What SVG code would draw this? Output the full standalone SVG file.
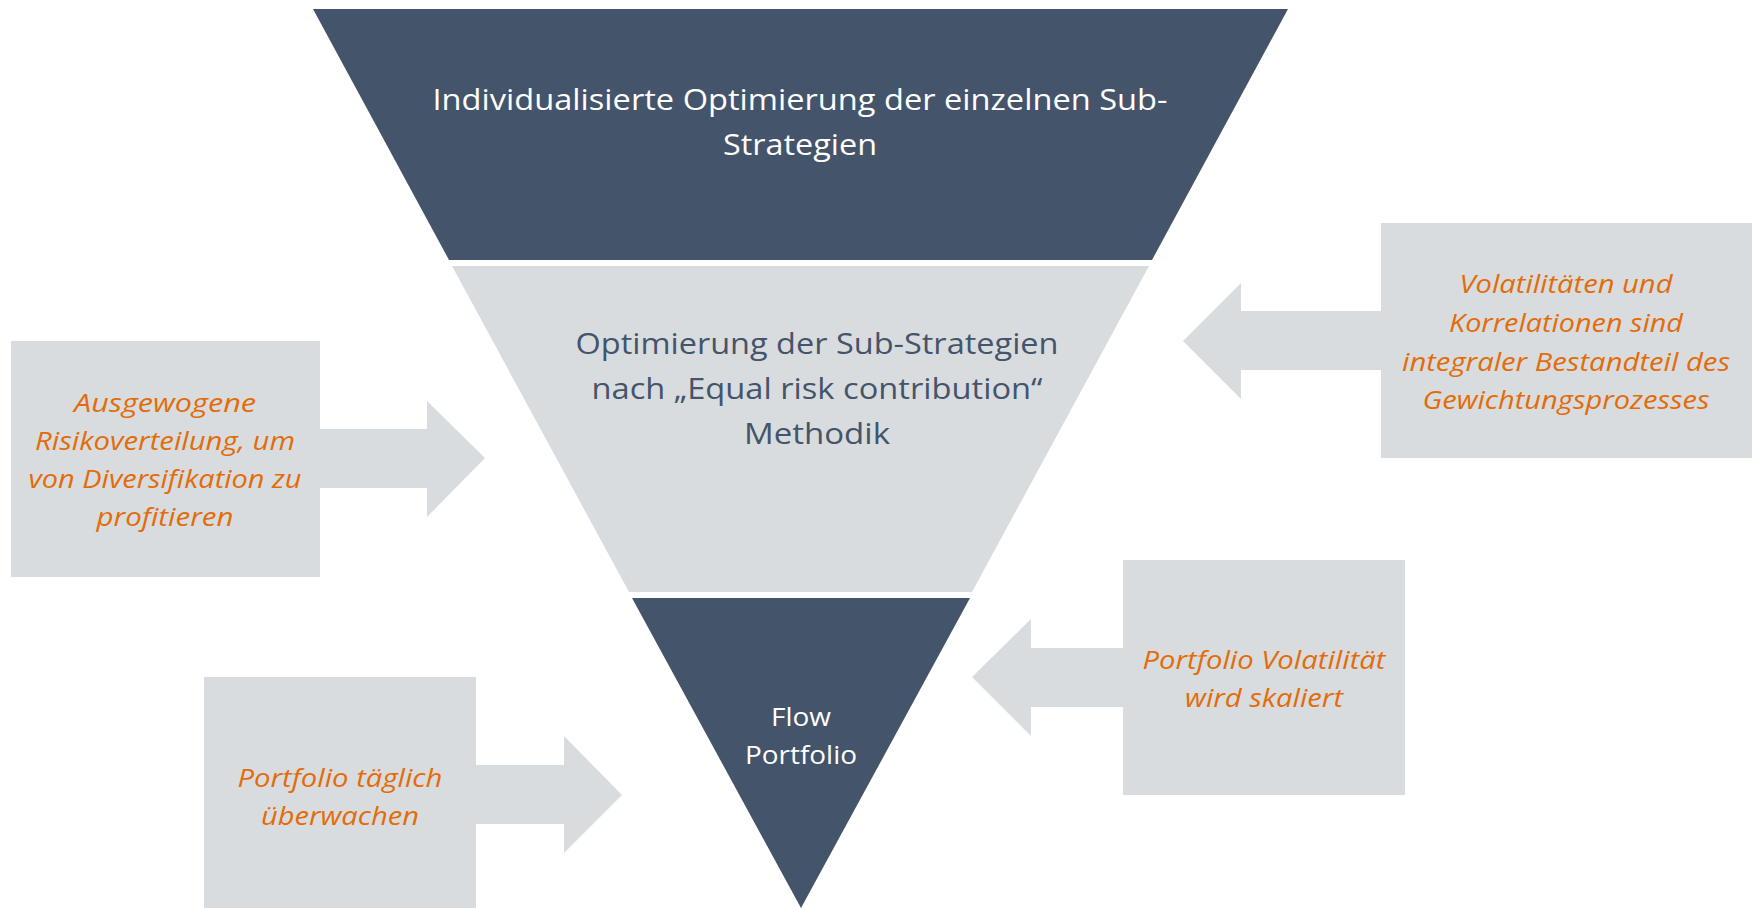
<svg xmlns="http://www.w3.org/2000/svg" width="1752" height="908" viewBox="0 0 1752 908">
<style>
.dark{fill:#44546A}
.light{fill:#D9DCDF}
.wt{font-family:"Open Sans","Liberation Sans",sans-serif;fill:#FFFFFF;text-anchor:middle}
.gt{font-family:"Open Sans","Liberation Sans",sans-serif;fill:#44546A;text-anchor:middle}
.ot{font-family:"Open Sans","Liberation Sans",sans-serif;font-style:italic;fill:#E36C0A;text-anchor:middle;font-size:25px}
</style>
<rect width="1752" height="908" fill="#FFFFFF"/>
<g id="level-top">
<polygon class="dark" points="313,9 1288,9 1152,260 449,260"/>
<text class="wt" font-size="29" x="800" y="110" textLength="735" lengthAdjust="spacingAndGlyphs">Individualisierte Optimierung der einzelnen Sub-</text>
<text class="wt" font-size="29" x="800" y="155" textLength="154" lengthAdjust="spacingAndGlyphs">Strategien</text>
</g>
<g id="level-middle">
<polygon class="light" points="452,266 1149,266 972,592 629,592"/>
<text class="gt" font-size="29" x="817" y="354" textLength="483" lengthAdjust="spacingAndGlyphs">Optimierung der Sub-Strategien</text>
<text class="gt" font-size="29" x="817" y="399" textLength="451" lengthAdjust="spacingAndGlyphs">nach „Equal risk contribution“</text>
<text class="gt" font-size="29" x="817" y="444" textLength="146" lengthAdjust="spacingAndGlyphs">Methodik</text>
</g>
<g id="level-bottom">
<polygon class="dark" points="632,598 970,598 801,908"/>
<text class="wt" font-size="26" x="801" y="726" textLength="60" lengthAdjust="spacingAndGlyphs">Flow</text>
<text class="wt" font-size="26" x="801" y="764" textLength="112" lengthAdjust="spacingAndGlyphs">Portfolio</text>
</g>
<g id="connectors">
<polygon class="light" points="319,429 427,429 427,401 485,458 427,517 427,488 319,488"/>
<polygon class="light" points="1382,311 1241,311 1241,283 1183,341 1241,399 1241,370 1382,370"/>
<polygon class="light" points="1124,648 1031,648 1031,619 972,677 1031,736 1031,707 1124,707"/>
<polygon class="light" points="475,765 564,765 564,736 622,795 564,853 564,824 475,824"/>
</g>
<g id="box-risk">
<rect class="light" x="11" y="341" width="309" height="236"/>
<text class="ot" x="165" y="412" textLength="182" lengthAdjust="spacingAndGlyphs">Ausgewogene</text>
<text class="ot" x="165" y="450" textLength="260" lengthAdjust="spacingAndGlyphs">Risikoverteilung, um</text>
<text class="ot" x="165" y="488" textLength="273" lengthAdjust="spacingAndGlyphs">von Diversifikation zu</text>
<text class="ot" x="165" y="526" textLength="137" lengthAdjust="spacingAndGlyphs">profitieren</text>
</g>
<g id="box-volatility">
<rect class="light" x="1381" y="223" width="371" height="235"/>
<text class="ot" x="1566" y="293" textLength="213" lengthAdjust="spacingAndGlyphs">Volatilitäten und</text>
<text class="ot" x="1566" y="332" textLength="234" lengthAdjust="spacingAndGlyphs">Korrelationen sind</text>
<text class="ot" x="1566" y="371" textLength="328" lengthAdjust="spacingAndGlyphs">integraler Bestandteil des</text>
<text class="ot" x="1566" y="409" textLength="287" lengthAdjust="spacingAndGlyphs">Gewichtungsprozesses</text>
</g>
<g id="box-scaling">
<rect class="light" x="1123" y="560" width="282" height="235"/>
<text class="ot" x="1264" y="669" textLength="243" lengthAdjust="spacingAndGlyphs">Portfolio Volatilität</text>
<text class="ot" x="1264" y="707" textLength="158" lengthAdjust="spacingAndGlyphs">wird skaliert</text>
</g>
<g id="box-monitor">
<rect class="light" x="204" y="677" width="272" height="231"/>
<text class="ot" x="340" y="787" textLength="205" lengthAdjust="spacingAndGlyphs">Portfolio täglich</text>
<text class="ot" x="340" y="825" textLength="158" lengthAdjust="spacingAndGlyphs">überwachen</text>
</g>
</svg>
